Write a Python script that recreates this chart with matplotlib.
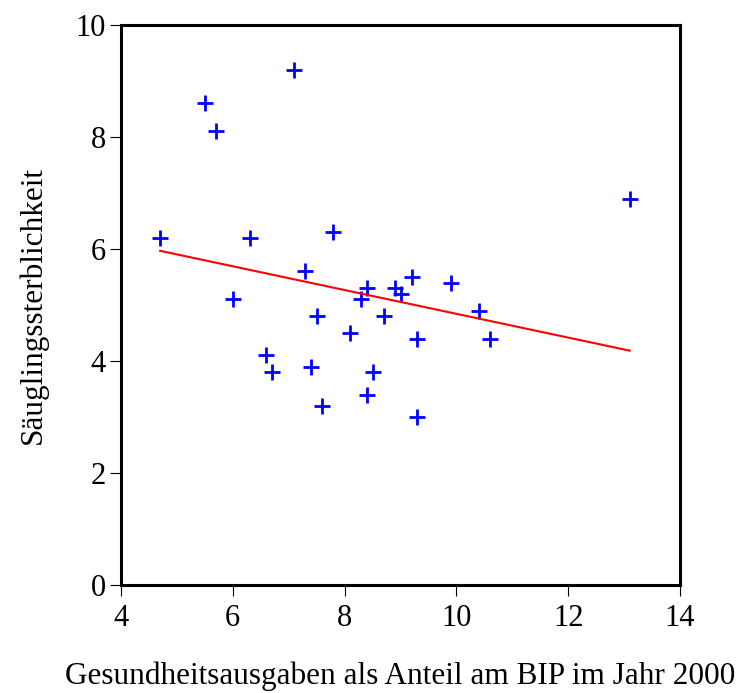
import numpy as np
import matplotlib
matplotlib.use('Agg')
import matplotlib.pyplot as plt

# -----------------------------------------------------------------------------------------

ausgaben = [4.7, 5.5, 5.7, 7.1, 6.0, 6.3, 6.6, 6.7, 7.3, 7.4, 7.5, 7.6, 7.8, 8.1,
            8.3, 8.4, 8.4, 8.5, 8.7, 8.9, 9.0, 9.2, 9.3, 9.3, 9.9, 10.4, 10.6, 13.1]
sterblichkeit = [6.2, 8.6, 8.1, 9.2, 5.1, 6.2, 4.1, 3.8, 5.6, 3.9, 4.8, 3.2, 6.3, 4.5,
                 5.1, 5.3, 3.4, 3.8, 4.8, 5.3, 5.2, 5.5, 4.4, 3.0, 5.4, 4.9, 4.4, 6.9]

x = np.array(ausgaben)
y = np.array(sterblichkeit)

# least squares line over the data range
m, b = np.polyfit(x, y, 1)
xf = np.array([x.min(), x.max()])

# -----------------------------------------------------------------------------------------

plt.rcParams['font.family'] = 'Liberation Serif'

fig = plt.figure(figsize=(7.41, 6.93), dpi=100)
ax = fig.add_axes([0.1633, 0.1558, 0.7544, 0.8081])

ax.plot(x, y, '+', color='#0000ff', markersize=11, markeredgewidth=2)
ax.plot(xf, m*xf + b, color='#ff0000', linewidth=1.5)

ax.set_xlim(4, 14)
ax.set_ylim(0, 10)
ax.set_xticks([4, 6, 8, 10, 12, 14])
ax.set_yticks([0, 2, 4, 6, 8, 10])

for s in ax.spines.values():
    s.set_linewidth(2.2)

ax.tick_params(top=False, right=False, direction='out', length=8, width=0.8,
               labelsize=22)
ax.tick_params(axis='x', pad=6)
ax.tick_params(axis='y', pad=3)

ax.set_xlabel('Gesundheitsausgaben als Anteil am BIP im Jahr 2000', fontsize=22.5, labelpad=20)
ax.set_ylabel('Säuglingssterblichkeit', fontsize=22.5, labelpad=20)

fig.savefig('out.png', dpi=100)
